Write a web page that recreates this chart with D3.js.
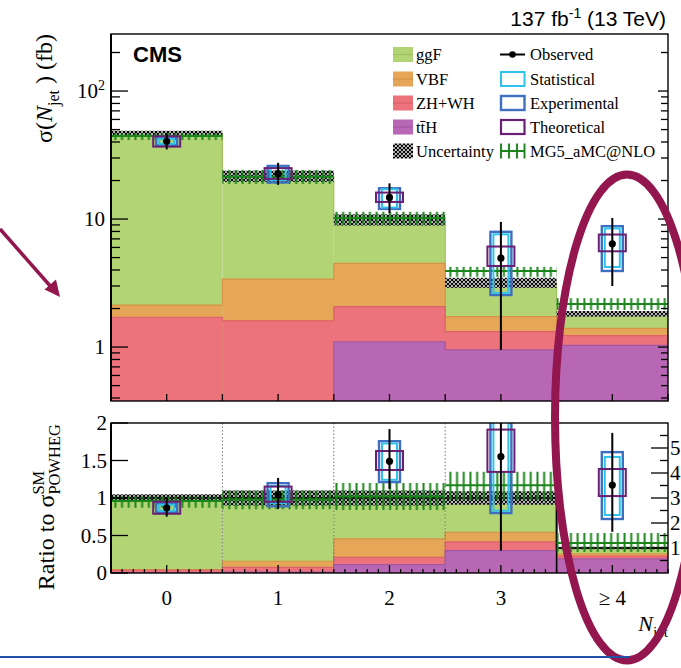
<!DOCTYPE html>
<html>
<head>
<meta charset="utf-8">
<script src="https://cdn.jsdelivr.net/npm/d3@7"></script>
<style>
  html, body { margin: 0; padding: 0; background: #fff; }
  svg { display: block; }
</style>
</head>
<body>
<svg id="chart" width="681" height="668"></svg>
<script>
// ---------- data ----------
const binLabels = ["0", "1", "2", "3", "\u2265 4"];
const binIndex = [0, 1, 2, 3, 4];

// POWHEG predictions per process (fb)
const ggF  = [44.47, 18.3, 5.4, 1.46, 0.42];
const vbf  = [0.42, 1.8, 2.43, 0.41, 0.17];
const zhwh = [1.69, 1.35, 0.97, 0.37, 0.20];
const tth  = [0.02, 0.25, 1.1, 0.95, 1.03];
// relative uncertainty of the summed prediction
const predRelUnc = [0.05, 0.1, 0.1, 0.09, 0.05];

// measured cross sections (fb) with total, stat, exp, theo intervals
const obs    = [40.5, 22.6, 14.75, 4.95, 6.4];
const obsLo  = [35.0, 18.5, 11.1, 0.95, 3.0];
const obsHi  = [46.8, 27.5, 19.0, 9.5, 10.2];
const statLo = [38.7, 20.2, 12.3, 2.65, 4.22];
const statHi = [42.4, 25.2, 17.1, 7.6, 8.45];
const expLo  = [37.7, 19.3, 12.0, 2.55, 3.93];
const expHi  = [43.3, 26.0, 17.4, 7.95, 8.8];
const theoLo = [36.8, 20.6, 13.6, 4.3, 5.6];
const theoHi = [44.3, 25.0, 16.1, 6.1, 7.57];

// MG5_aMC@NLO prediction: cross section (fb) and ratio to POWHEG
const mg5     = [44.5, 21.4, 10.2, 3.93, 2.17];
const mg5Lo   = [41.4, 18.8, 8.96, 3.54, 1.95];
const mg5Hi   = [46.9, 24.2, 11.4, 4.23, 2.41];
const mg5R    = [0.96, 0.98, 1.02, 1.17, 1.2];
const mg5RLo  = [0.87, 0.85, 0.84, 0.97, 0.84];
const mg5RHi  = [1.02, 1.10, 1.20, 1.35, 1.6];

// axis ticks
const topTicks = [1, 10, 100];
const topTickLabels = ["1", "10", "10"];
const ratioTicks = [0, 0.5, 1, 1.5, 2];
const ratioTickLabels = ["0", "0.5", "1", "1.5", "2"];
const ratioRightTicks = [1, 2, 3, 4, 5];

// ---------- layout ----------
const L = 111, R = 668, T1 = 34, B1 = 401, T2 = 423, B2 = 573;
const SERIF = "'Liberation Serif', 'Times New Roman', serif";
const SANS = "'Liberation Sans', Arial, sans-serif";
const GREEN = "#1a851a";
const C_STAT = "#2ec3ec", C_EXP = "#3f6fc0", C_THEO = "#6b1f74";
const MAROON = "#93164f";

const svg = d3.select("#chart");
const x = d3.scaleLinear().domain([-0.5, 4.5]).range([L, R]);
const yTop = d3.scaleLog().domain([0.379, 279]).range([B1, T1]);
const yR = d3.scaleLinear().domain([0, 2]).range([B2, T2]);
const yR4 = d3.scaleLinear().domain([0, 6]).range([B2, T2]);   // scale of the last bin (right axis)
const ratioScale = i => (i === 4 ? yR4 : yR);

// ---------- defs ----------
const defs = svg.append("defs");
defs.append("clipPath").attr("id", "clipTop").append("rect")
  .attr("x", L).attr("y", T1).attr("width", R - L).attr("height", B1 - T1);
defs.append("clipPath").attr("id", "clipRatio").append("rect")
  .attr("x", L).attr("y", T2).attr("width", R - L).attr("height", B2 - T2);

const hatch = defs.append("pattern").attr("id", "hatch")
  .attr("patternUnits", "userSpaceOnUse").attr("width", 4).attr("height", 4);
hatch.append("rect").attr("width", 4).attr("height", 4).attr("fill", "#fff");
hatch.append("path").attr("d", "M0,0L4,4M4,0L0,4M-1,1L1,-1M3,5L5,3M-1,3L1,5M3,-1L5,1")
  .attr("stroke", "#000").attr("stroke-width", 1.2);

const mgPat = defs.append("pattern").attr("id", "mgpat")
  .attr("patternUnits", "userSpaceOnUse").attr("x", L + 1).attr("y", 0)
  .attr("width", 6.7).attr("height", 20);
mgPat.append("line").attr("x1", 3.35).attr("x2", 3.35).attr("y1", 0).attr("y2", 20)
  .attr("stroke", GREEN).attr("stroke-width", 2);

// ---------- stacked processes ----------
const processes = [
  { name: "ggF",   vals: ggF,  fill: "#b3d474", edge: "#9fbf62" },
  { name: "VBF",   vals: vbf,  fill: "#e6a658", edge: "#d69246" },
  { name: "ZH+WH", vals: zhwh, fill: "#ec737b", edge: "#da6069" },
  { name: "ttH",   vals: tth,  fill: "#b867b5", edge: "#a457a2" }
];
// stack from the bottom: ttH, ZH+WH, VBF, ggF
let running = binIndex.map(() => 0);
[3, 2, 1, 0].forEach(k => {
  running = running.map((r, i) => r + processes[k].vals[i]);
  processes[k].cum = running.slice();
});
const total = processes[0].cum;

const stepPoints = (vals, yScaleFn) => {
  const pts = [];
  vals.forEach((v, i) => {
    const ys = yScaleFn(i);
    pts.push([x(i - 0.5), ys(v)], [x(i + 0.5), ys(v)]);
  });
  return pts;
};
const line = d3.line();

// ---------- top panel ----------
const gTop = svg.append("g").attr("clip-path", "url(#clipTop)");

processes.forEach(p => {
  gTop.append("g").selectAll("rect").data(binIndex).join("rect")
    .attr("x", i => x(i - 0.5)).attr("width", i => x(i + 0.5) - x(i - 0.5))
    .attr("y", i => yTop(p.cum[i])).attr("height", i => B1 + 5 - yTop(p.cum[i]))
    .attr("fill", p.fill);
  gTop.append("path").attr("d", line(stepPoints(p.cum, () => yTop)))
    .attr("fill", "none").attr("stroke", p.edge).attr("stroke-width", 1.2);
});

// prediction uncertainty band
gTop.append("g").selectAll("rect").data(binIndex).join("rect")
  .attr("x", i => x(i - 0.5)).attr("width", i => x(i + 0.5) - x(i - 0.5))
  .attr("y", i => yTop(total[i] * (1 + predRelUnc[i])))
  .attr("height", i => yTop(total[i] * (1 - predRelUnc[i])) - yTop(total[i] * (1 + predRelUnc[i])))
  .attr("fill", "url(#hatch)");

// MG5_aMC@NLO
gTop.append("g").selectAll("rect").data(binIndex).join("rect")
  .attr("x", i => x(i - 0.5)).attr("width", i => x(i + 0.5) - x(i - 0.5))
  .attr("y", i => yTop(mg5Hi[i])).attr("height", i => yTop(mg5Lo[i]) - yTop(mg5Hi[i]))
  .attr("fill", "url(#mgpat)");
gTop.append("g").selectAll("line").data(binIndex).join("line")
  .attr("x1", i => x(i - 0.5)).attr("x2", i => x(i + 0.5))
  .attr("y1", i => yTop(mg5[i])).attr("y2", i => yTop(mg5[i]))
  .attr("stroke", GREEN).attr("stroke-width", 2);

// measurement with uncertainty boxes
function drawMeasurement(g, ys, val, lo, hi, sLo, sHi, eLo, eHi, tLo, tHi) {
  binIndex.forEach(i => {
    const s = ys(i), cx = x(i);
    const box = (a, b, w, col, sw) => g.append("rect")
      .attr("x", cx - w / 2).attr("width", w)
      .attr("y", s(b[i])).attr("height", s(a[i]) - s(b[i]))
      .attr("fill", "none").attr("stroke", col).attr("stroke-width", sw);
    box(eLo, eHi, 21, C_EXP, 2.4);
    box(sLo, sHi, 15, C_STAT, 2);
    box(tLo, tHi, 27, C_THEO, 2);
    g.append("line").attr("x1", cx).attr("x2", cx)
      .attr("y1", s(hi[i])).attr("y2", s(lo[i]))
      .attr("stroke", "#000").attr("stroke-width", 2);
    g.append("circle").attr("cx", cx).attr("cy", s(val[i])).attr("r", 3.6).attr("fill", "#000");
  });
}
drawMeasurement(gTop, () => yTop, obs, obsLo, obsHi, statLo, statHi, expLo, expHi, theoLo, theoHi);

// ---------- ratio panel ----------
const gR = svg.append("g").attr("clip-path", "url(#clipRatio)");
const frac = (arr) => arr.map((v, i) => v / total[i]);

processes.forEach(p => {
  const f = frac(p.cum);
  gR.append("g").selectAll("rect").data(binIndex).join("rect")
    .attr("x", i => x(i - 0.5)).attr("width", i => x(i + 0.5) - x(i - 0.5))
    .attr("y", i => ratioScale(i)(f[i])).attr("height", i => B2 + 5 - ratioScale(i)(f[i]))
    .attr("fill", p.fill);
  gR.append("path").attr("d", line(stepPoints(f, ratioScale)))
    .attr("fill", "none").attr("stroke", p.edge).attr("stroke-width", 1.2);
});

// bin separators
gR.append("g").selectAll("line").data([0.5, 1.5, 2.5]).join("line")
  .attr("x1", d => x(d)).attr("x2", d => x(d)).attr("y1", T2).attr("y2", B2)
  .attr("stroke", "#777").attr("stroke-width", 1).attr("stroke-dasharray", "1.5,2");

// prediction band
gR.append("g").selectAll("rect").data(binIndex).join("rect")
  .attr("x", i => x(i - 0.5)).attr("width", i => x(i + 0.5) - x(i - 0.5))
  .attr("y", i => ratioScale(i)(1 + predRelUnc[i]))
  .attr("height", i => ratioScale(i)(1 - predRelUnc[i]) - ratioScale(i)(1 + predRelUnc[i]))
  .attr("fill", "url(#hatch)");
// unit line of the prediction
const unitPts = stepPoints(binIndex.map(() => 1), ratioScale);
gR.append("path").attr("d", line(unitPts)).attr("fill", "none")
  .attr("stroke", "#000").attr("stroke-width", 1.6);
gR.append("line").attr("x1", x(3.5)).attr("x2", x(3.5))
  .attr("y1", yR(1)).attr("y2", B2).attr("stroke", "#000").attr("stroke-width", 1.6);

// MG5 ratio
gR.append("g").selectAll("rect").data(binIndex).join("rect")
  .attr("x", i => x(i - 0.5)).attr("width", i => x(i + 0.5) - x(i - 0.5))
  .attr("y", i => ratioScale(i)(mg5RHi[i]))
  .attr("height", i => ratioScale(i)(mg5RLo[i]) - ratioScale(i)(mg5RHi[i]))
  .attr("fill", "url(#mgpat)");
gR.append("g").selectAll("line").data(binIndex).join("line")
  .attr("x1", i => x(i - 0.5)).attr("x2", i => x(i + 0.5))
  .attr("y1", i => ratioScale(i)(mg5R[i])).attr("y2", i => ratioScale(i)(mg5R[i]))
  .attr("stroke", GREEN).attr("stroke-width", 2);

drawMeasurement(gR, ratioScale, frac(obs), frac(obsLo), frac(obsHi),
  frac(statLo), frac(statHi), frac(expLo), frac(expHi), frac(theoLo), frac(theoHi));

// ---------- frames and axes ----------
[[T1, B1], [T2, B2]].forEach(([t, b]) => {
  svg.append("rect").attr("x", L).attr("y", t).attr("width", R - L).attr("height", b - t)
    .attr("fill", "none").attr("stroke", "#000").attr("stroke-width", 1.4);
});
svg.append("line").attr("x1", L).attr("x2", L).attr("y1", T1).attr("y2", B1)
  .attr("stroke", "#000").attr("stroke-width", 2);
svg.append("line").attr("x1", L).attr("x2", L).attr("y1", T2).attr("y2", B2)
  .attr("stroke", "#000").attr("stroke-width", 2);

const ax = svg.append("g").attr("stroke", "#000").attr("stroke-width", 1.3);
// log ticks of the top panel
const [d0, d1] = yTop.domain();
const minor = [];
[0.1, 1, 10, 100].forEach(dec => d3.range(1, 10).forEach(k => {
  const v = k * dec;
  if (v >= d0 && v <= d1) minor.push(v);
}));
minor.forEach(v => {
  const major = topTicks.includes(v);
  ax.append("line").attr("x1", L).attr("x2", L + (major ? 17 : 9)).attr("y1", yTop(v)).attr("y2", yTop(v));
  ax.append("line").attr("x1", R).attr("x2", R - (major ? 10 : 7)).attr("y1", yTop(v)).attr("y2", yTop(v));
});
// x ticks
d3.range(-0.5, 4.51, 0.5).forEach(v => {
  ax.append("line").attr("x1", x(v)).attr("x2", x(v)).attr("y1", B1).attr("y2", B1 - 7);
});
d3.range(-0.5, 4.51, 0.1).forEach(v => {
  const major = Math.abs(v - Math.round(v)) < 1e-6;
  ax.append("line").attr("x1", x(v)).attr("x2", x(v)).attr("y1", B2).attr("y2", B2 - (major ? 8 : 4));
});
// ratio ticks
ratioTicks.forEach(v => {
  ax.append("line").attr("x1", L).attr("x2", L + 17).attr("y1", yR(v)).attr("y2", yR(v));
});
d3.range(0.5, 5.51, 0.5).forEach(v => {
  const major = ratioRightTicks.includes(v);
  ax.append("line").attr("x1", R).attr("x2", R - (major ? 17 : 8)).attr("y1", yR4(v)).attr("y2", yR4(v));
});

// tick labels
const lab = svg.append("g").attr("font-family", SERIF).attr("font-size", 21).attr("fill", "#000");
topTicks.forEach((v, k) => {
  const t = lab.append("text").attr("x", 105).attr("y", yTop(v)).attr("dy", "0.35em").attr("text-anchor", "end");
  t.append("tspan").text(topTickLabels[k]);
  if (v === 100) t.append("tspan").attr("font-size", 14).attr("dy", -8).text("2");
});
ratioTicks.forEach((v, k) => {
  lab.append("text").attr("x", 107).attr("y", yR(v)).attr("dy", "0.35em")
    .attr("text-anchor", "end").text(ratioTickLabels[k]);
});
ratioRightTicks.forEach(v => {
  lab.append("text").attr("x", 670).attr("y", yR4(v)).attr("dy", "0.35em").text(v);
});
binIndex.forEach(i => {
  lab.append("text").attr("x", x(i)).attr("y", 605).attr("text-anchor", "middle").text(binLabels[i]);
});

// axis titles
const xt = svg.append("text").attr("x", 668).attr("y", 631).attr("text-anchor", "end")
  .attr("font-family", SERIF).attr("font-size", 22);
xt.append("tspan").attr("font-style", "italic").text("N");
xt.append("tspan").attr("font-size", 15).attr("dy", 6).text("jet");

const yt = svg.append("text").attr("transform", "translate(52,34) rotate(-90)")
  .attr("text-anchor", "end").attr("font-family", SERIF).attr("font-size", 24);
yt.append("tspan").text("\u03c3(");
yt.append("tspan").attr("font-style", "italic").text("N");
yt.append("tspan").attr("font-size", 16).attr("dy", 7).text("jet");
yt.append("tspan").attr("dy", -7).attr("dx", 6).text(") (fb)");

const rt = svg.append("text").attr("transform", "translate(54,424) rotate(-90)")
  .attr("text-anchor", "end").attr("font-family", SERIF).attr("font-size", 24);
rt.append("tspan").text("Ratio to \u03c3");
const sup = rt.append("tspan").attr("font-size", 16.5).attr("dy", -10).text("SM");
const supW = sup.node().getComputedTextLength();
rt.append("tspan").attr("font-size", 16.5).attr("dy", 16).attr("dx", -supW).text("POWHEG");

// header texts
svg.append("text").attr("x", 133).attr("y", 62).attr("font-family", SANS)
  .attr("font-weight", "bold").attr("font-size", 22).text("CMS");
const lumi = svg.append("text").attr("x", 666).attr("y", 26).attr("text-anchor", "end")
  .attr("font-family", SANS).attr("font-size", 21);
lumi.append("tspan").text("137 fb");
lumi.append("tspan").attr("font-size", 14).attr("dy", -8).text("-1");
lumi.append("tspan").attr("dy", 8).text(" (13 TeV)");

// ---------- legend ----------
const leg = svg.append("g").attr("font-family", SERIF).attr("font-size", 16.5);
const rowY = [54.5, 79, 103, 127, 151];
const fillItems = [
  { p: processes[0], label: "ggF" },
  { p: processes[1], label: "VBF" },
  { p: processes[2], label: "ZH+WH" },
  { p: processes[3], label: "t\u0074\u0304H" }
];
fillItems.forEach((it, k) => {
  const cy = rowY[k];
  leg.append("rect").attr("x", 393).attr("y", cy - 7.5).attr("width", 20).attr("height", 15).attr("fill", it.p.fill);
  leg.append("line").attr("x1", 393).attr("x2", 413).attr("y1", cy).attr("y2", cy)
    .attr("stroke", it.p.edge).attr("stroke-width", 1.2);
  leg.append("text").attr("x", 416).attr("y", cy + 5.5).text(it.label);
});
leg.append("rect").attr("x", 393).attr("y", rowY[4] - 7.5).attr("width", 20).attr("height", 15).attr("fill", "url(#hatch)");
leg.append("text").attr("x", 416).attr("y", rowY[4] + 5.5).text("Uncertainty");

// second column
leg.append("line").attr("x1", 500).attr("x2", 525).attr("y1", rowY[0]).attr("y2", rowY[0])
  .attr("stroke", "#000").attr("stroke-width", 2);
leg.append("circle").attr("cx", 512.5).attr("cy", rowY[0]).attr("r", 3.3).attr("fill", "#000");
leg.append("text").attr("x", 530).attr("y", rowY[0] + 5.5).text("Observed");
[[C_STAT, "Statistical", 2], [C_EXP, "Experimental", 2.4], [C_THEO, "Theoretical", 2.2]].forEach(([c, t, sw], k) => {
  const cy = rowY[k + 1];
  leg.append("rect").attr("x", 501).attr("y", cy - 7).attr("width", 23.5).attr("height", 14)
    .attr("fill", "none").attr("stroke", c).attr("stroke-width", sw);
  leg.append("text").attr("x", 530).attr("y", cy + 5.5).text(t);
});
leg.append("line").attr("x1", 500).attr("x2", 525).attr("y1", rowY[4]).attr("y2", rowY[4])
  .attr("stroke", GREEN).attr("stroke-width", 2);
[501, 509, 517, 524.5].forEach(px => {
  leg.append("line").attr("x1", px).attr("x2", px).attr("y1", rowY[4] - 7.5).attr("y2", rowY[4] + 7.5)
    .attr("stroke", GREEN).attr("stroke-width", 1.9);
});
leg.append("text").attr("x", 530).attr("y", rowY[4] + 5.5).text("MG5_aMC@NLO");

// ---------- annotations ----------
svg.append("ellipse").attr("cx", 627).attr("cy", 417.5).attr("rx", 72).attr("ry", 243)
  .attr("fill", "none").attr("stroke", MAROON).attr("stroke-width", 8);
svg.append("line").attr("x1", 0).attr("y1", 229).attr("x2", 52).attr("y2", 288)
  .attr("stroke", MAROON).attr("stroke-width", 3.5);
svg.append("path").attr("d", "M60,297L44.5,289.5L56,279.5Z").attr("fill", MAROON);
svg.append("line").attr("x1", 0).attr("x2", 629).attr("y1", 657).attr("y2", 657)
  .attr("stroke", "#2250a8").attr("stroke-width", 2);
</script>
</body>
</html>
